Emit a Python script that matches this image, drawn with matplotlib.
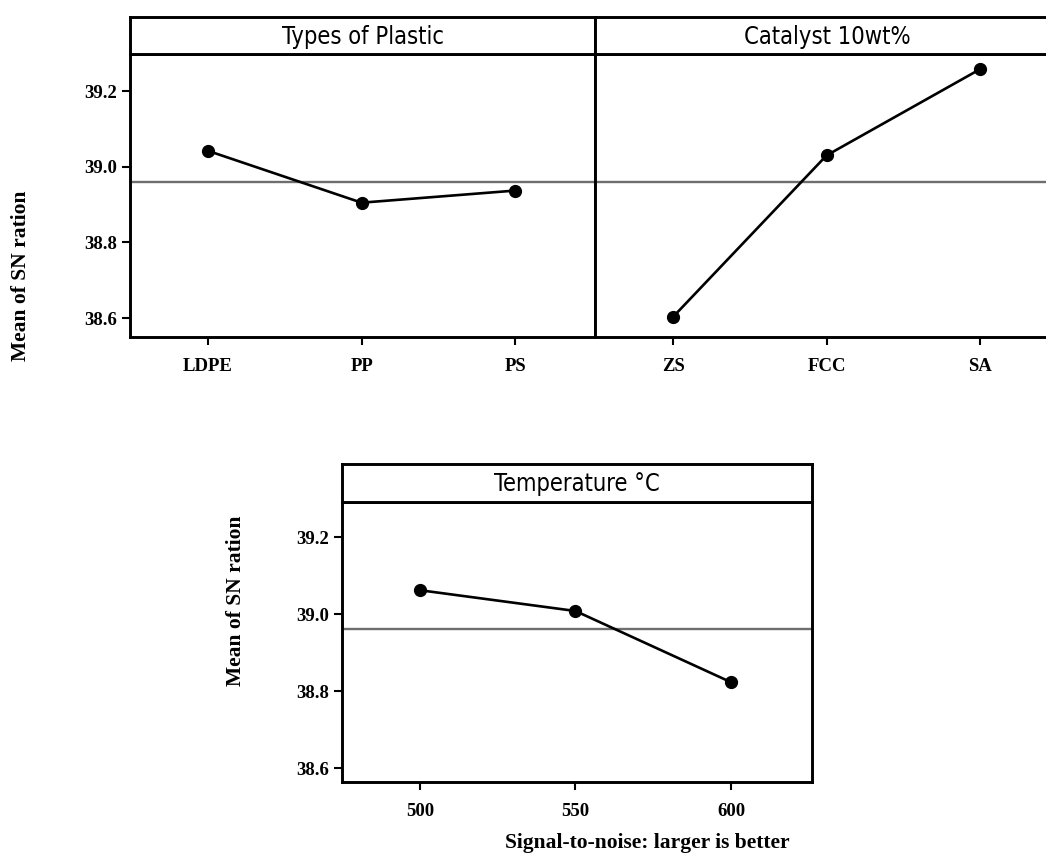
import matplotlib
matplotlib.use('Agg')
import matplotlib.pyplot as plt

# data (SN ratios)
plastic_labels = ['LDPE', 'PP', 'PS']
plastic_sn = [39.042, 38.905, 38.937]

catalyst_labels = ['ZS', 'FCC', 'SA']
catalyst_sn = [38.603, 39.030, 39.258]

temperature = [500, 550, 600]
temperature_sn = [39.062, 39.008, 38.823]

overall_mean = 38.96
y_ticks = [38.6, 38.8, 39.0, 39.2]

W, H = 1046, 856
serif = ['Liberation Serif', 'DejaVu Serif']

fig = plt.figure(figsize=(W / 100, H / 100), dpi=100)


def box(x0, y0, x1, y1):
    # pixel box (top-left origin) -> figure fraction rect
    return [x0 / W, 1 - y1 / H, (x1 - x0) / W, (y1 - y0) / H]


def header(rect, title):
    hx = fig.add_axes(rect)
    hx.set_xticks([])
    hx.set_yticks([])
    for s in hx.spines.values():
        s.set_linewidth(2.1)
    hx.text(0.5, 0.47, title, ha='center', va='center', fontsize=17,
            family='DejaVu Sans', stretch='condensed',
            transform=hx.transAxes)
    return hx


def style(ax, ylim, show_y=True):
    ax.set_ylim(*ylim)
    ax.set_yticks(y_ticks)
    ax.set_yticklabels([f'{v:.1f}' for v in y_ticks])
    ax.axhline(overall_mean, color='#6e6e6e', lw=1.7, zorder=1)
    for s in ax.spines.values():
        s.set_linewidth(2.1)
    ax.tick_params(axis='both', direction='out', length=6, width=1.5,
                   labelsize=13.5)
    ax.tick_params(axis='x', pad=9)
    for lab in ax.get_xticklabels() + ax.get_yticklabels():
        lab.set_family(serif)
        lab.set_fontweight('bold')
    if not show_y:
        ax.tick_params(axis='y', left=False, labelleft=False)


def draw(ax, x, y):
    ax.plot(x, y, color='black', lw=1.9, marker='o', ms=8.5, mfc='black',
            mec='black', zorder=3)


top_ylim = (38.55, 39.298)

# Types of plastic
ax1 = fig.add_axes(box(130, 54, 595, 337))
draw(ax1, range(len(plastic_labels)), plastic_sn)
ax1.set_xticks(range(len(plastic_labels)))
ax1.set_xticklabels(plastic_labels)
ax1.set_xlim(-0.508, 2.52)
style(ax1, top_ylim)
header(box(130, 17, 595, 54), 'Types of Plastic')

# Catalyst (panel runs past the right edge of the picture)
ax2 = fig.add_axes(box(595, 54, 1060, 337))
draw(ax2, range(len(catalyst_labels)), catalyst_sn)
ax2.set_xticks(range(len(catalyst_labels)))
ax2.set_xticklabels(catalyst_labels)
ax2.set_xlim(-0.508, 2.52)
style(ax2, top_ylim, show_y=False)
header(box(595, 17, 1060, 54), 'Catalyst 10wt%')

fig.text(21 / W, 1 - 276 / H, 'Mean of SN ration', rotation=90,
         ha='center', va='center', fontsize=15.5, fontweight='bold',
         family=serif)

# Temperature
ax3 = fig.add_axes(box(342, 502, 812, 782))
draw(ax3, temperature, temperature_sn)
ax3.set_xticks(temperature)
ax3.set_xlim(475, 626)
style(ax3, (38.564, 39.291))
header(box(342, 464, 812, 502), 'Temperature °C')

fig.text(236 / W, 1 - 601 / H, 'Mean of SN ration', rotation=90,
         ha='center', va='center', fontsize=15.5, fontweight='bold',
         family=serif)
fig.text(647 / W, 1 - 843 / H, 'Signal-to-noise: larger is better',
         ha='center', va='center', fontsize=15.5, fontweight='bold',
         family=serif)

fig.savefig('out.png', dpi=100)
